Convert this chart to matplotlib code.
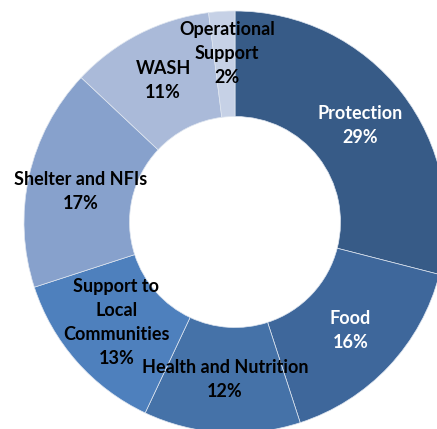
import matplotlib
matplotlib.use("Agg")
import matplotlib.pyplot as plt

categories = ["Protection", "Food", "Health and Nutrition", "Support to\nLocal\nCommunities",
              "Shelter and NFIs", "WASH", "Operational\nSupport"]
shares = [29, 16, 12, 13, 17, 11, 2]
colors = ["#375B87", "#3E679B", "#4572A8", "#4E80BD", "#87A1CC", "#AABAD9", "#C6D1E6"]
text_colors = ["white", "white", "black", "black", "black", "black", "black"]

plt.rcParams["font.family"] = ["Lato", "DejaVu Sans"]

W, H = 437, 429
fig = plt.figure(figsize=(W / 100, H / 100), dpi=100)
ax = fig.add_axes([0, 0, 1, 1])

wedges, _, autotexts = ax.pie(
    shares, colors=colors, startangle=90, counterclock=False,
    radius=1, wedgeprops=dict(width=0.5, edgecolor="#dfe6f0", linewidth=0.5),
    autopct="%d%%", pctdistance=0.75, normalize=True,
)

# donut centre and radius in pixels, the ring runs off the right and bottom edges
cx, cy, R = 235, 222, 211
ax.set_xlim(-cx / R, (W - cx) / R)
ax.set_ylim(-(H - cy) / R, cy / R)
ax.set_aspect("equal")
ax.axis("off")

for t, name, val, col in zip(autotexts, categories, shares, text_colors):
    t.set_text(f"{name}\n{val}%")
    t.set_color(col)
    t.set_fontsize(13)
    t.set_fontweight("bold")
    t.set_linespacing(1.5)

# nudge a few labels like the original
x, y = autotexts[-1].get_position()
autotexts[-1].set_position((x + 0.01, y + 0.05))
x, y = autotexts[3].get_position()
autotexts[3].set_position((x, y + 0.02))
x, y = autotexts[4].get_position()
autotexts[4].set_position((x, y - 0.02))

plt.savefig("out.png", dpi=100, facecolor="white")
